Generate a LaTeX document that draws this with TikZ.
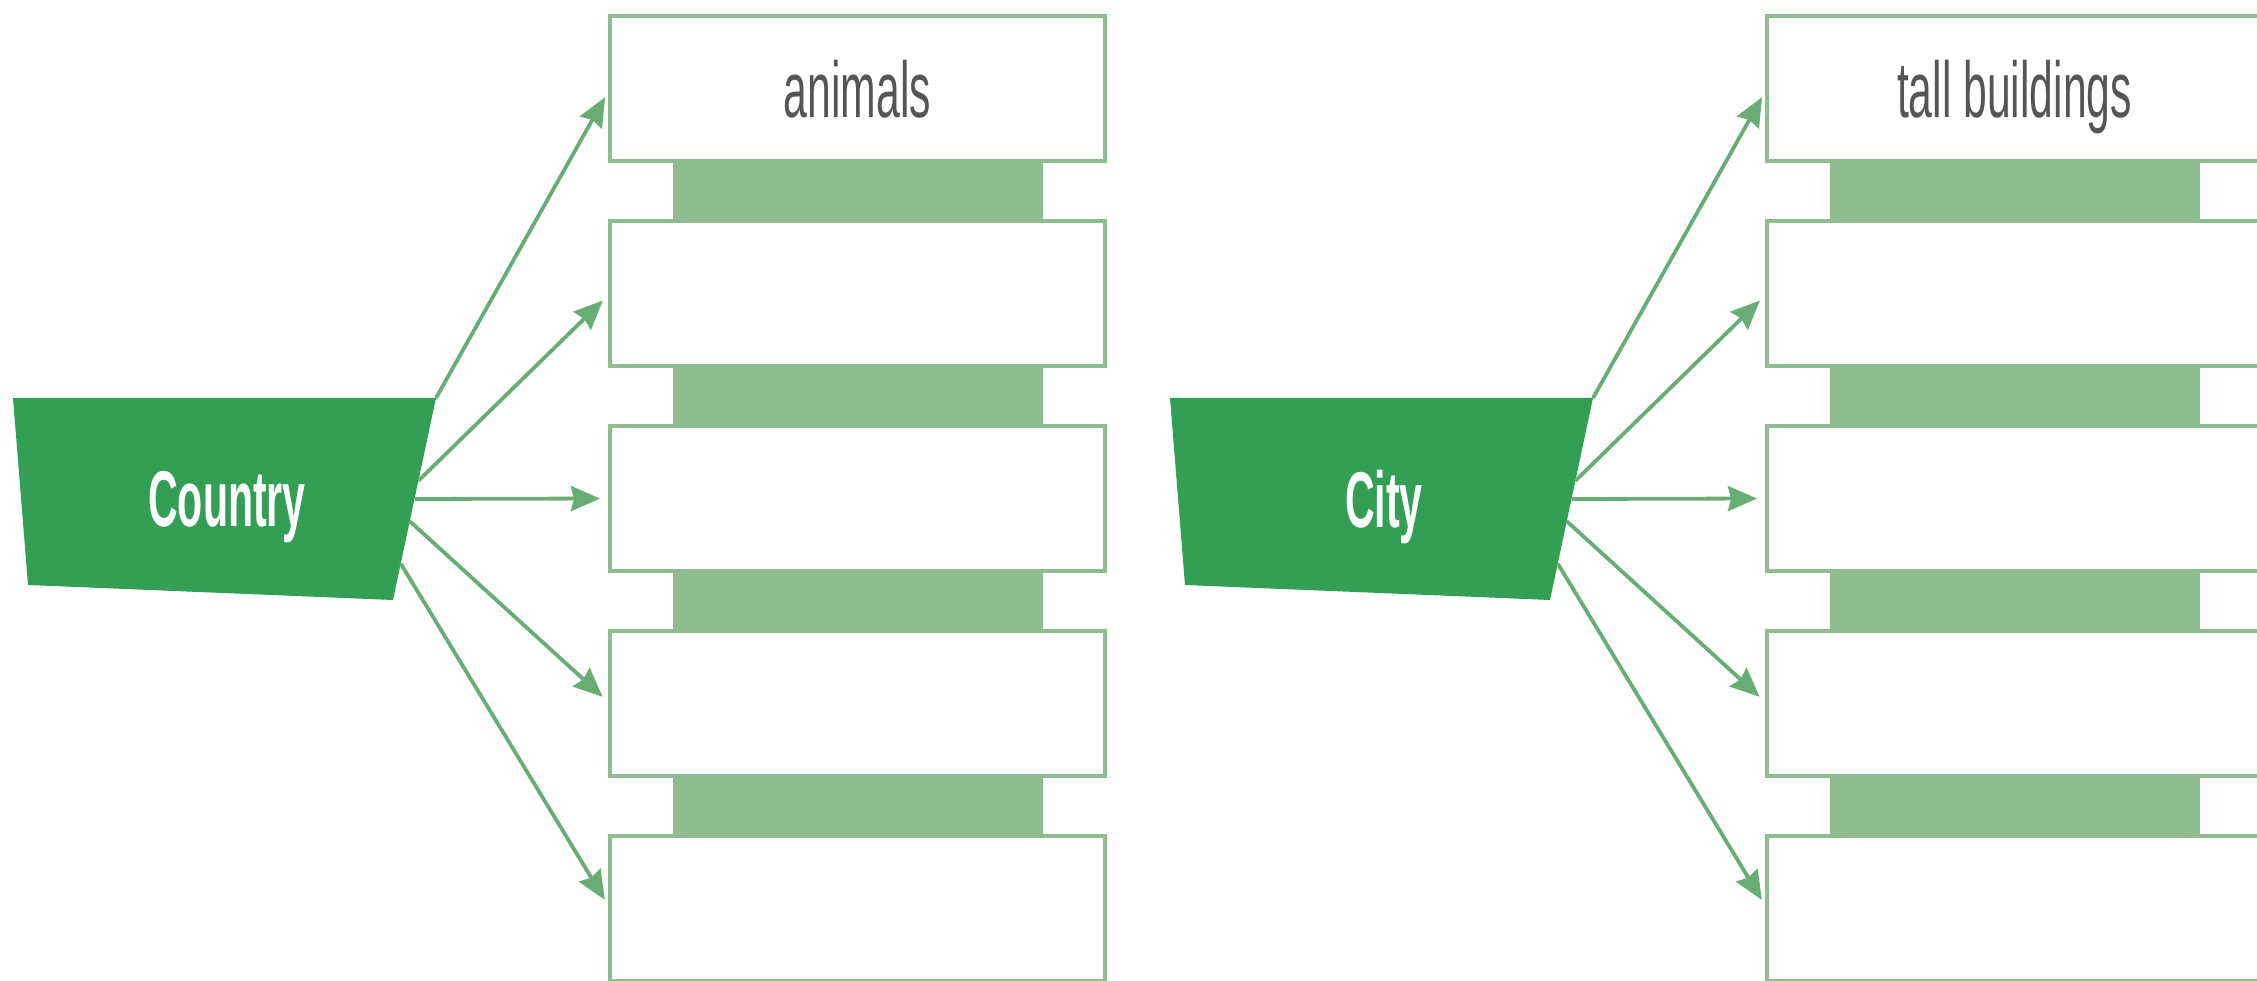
\documentclass[tikz,border=0pt]{standalone}
\usepackage{fontspec}
\usepackage{xcolor}
\usetikzlibrary{arrows.meta,positioning,calc}

\newfontfamily\slotfont[FakeStretch=0.54]{Liberation Sans}
\newfontfamily\tagfont[FakeStretch=0.52]{Liberation Sans}

\definecolor{tagfill}{RGB}{51,159,84}
\definecolor{slotline}{RGB}{143,189,143}
\definecolor{linkfill}{RGB}{142,188,142}
\definecolor{arrowgreen}{RGB}{104,174,116}
\definecolor{labelgray}{RGB}{85,85,85}

\begin{document}
\begin{tikzpicture}[
    x=0.1mm, y=-0.1mm,
    node distance=6mm,
    slot/.style={draw=slotline, line width=0.45mm, fill=white, minimum width=4.95cm,
                minimum height=1.45cm, inner sep=0pt, outer sep=0pt, text depth=0pt,
                text=labelgray, font=\slotfont\fontsize{22.5}{26}\selectfont},
    link/.style={fill=linkfill, minimum width=3.7cm, minimum height=6mm,
                inner sep=0pt, outer sep=0pt},
    tag/.style={text=white, text depth=0pt, inner sep=0pt,
                font=\tagfont\bfseries\fontsize{22.5}{26}\selectfont},
    arrow/.style={-{Stealth[length=2.9mm, width=2.5mm, inset=0.3mm]},
                line width=0.38mm, draw=arrowgreen, shorten >=1mm}
]
  \useasboundingbox (0,0) rectangle (2257,981);

  % country column
  \node[slot] (an1) at (857.5,88.5) {animals};
  \node[slot, below=of an1] (an2) {};
  \node[slot, below=of an2] (an3) {};
  \node[slot, below=of an3] (an4) {};
  \node[slot, below=of an4] (an5) {};
  \node[link, below=0mm of an1] (al1) {};
  \node[link, below=0mm of an2] (al2) {};
  \node[link, below=0mm of an3] (al3) {};
  \node[link, below=0mm of an4] (al4) {};

  \coordinate (ctry-nw) at (13,398);
  \coordinate (ctry-ne) at (436,398);
  \coordinate (ctry-se) at (393,600);
  \coordinate (ctry-sw) at (28,585);
  \fill[tagfill] (ctry-nw) -- (ctry-ne) -- (ctry-se) -- (ctry-sw) -- cycle;
  \node[tag] (ctry) at (227,499) {Country};

  \coordinate (ctry-o2) at ($(ctry-ne)!0.41!(ctry-se)$);
  \coordinate (ctry-o3) at ($(ctry-ne)!0.50!(ctry-se)$);
  \coordinate (ctry-o4) at ($(ctry-ne)!0.61!(ctry-se)$);
  \coordinate (ctry-o5) at ($(ctry-ne)!0.82!(ctry-se)$);

  \draw[arrow] (ctry-ne) -- (an1.west);
  \draw[arrow] (ctry-o2) -- (an2.west);
  \draw[arrow] (ctry-o3) -- (an3.west);
  \draw[arrow] (ctry-o4) -- (an4.west);
  \draw[arrow] (ctry-o5) -- (an5.west);

  % city column
  \node[slot] (tb1) at (2014.5,88.5) {tall buildings};
  \node[slot, below=of tb1] (tb2) {};
  \node[slot, below=of tb2] (tb3) {};
  \node[slot, below=of tb3] (tb4) {};
  \node[slot, below=of tb4] (tb5) {};
  \node[link, below=0mm of tb1] (tl1) {};
  \node[link, below=0mm of tb2] (tl2) {};
  \node[link, below=0mm of tb3] (tl3) {};
  \node[link, below=0mm of tb4] (tl4) {};

  \coordinate (city-nw) at (1170,398);
  \coordinate (city-ne) at (1593,398);
  \coordinate (city-se) at (1550,600);
  \coordinate (city-sw) at (1185,585);
  \fill[tagfill] (city-nw) -- (city-ne) -- (city-se) -- (city-sw) -- cycle;
  \node[tag] (city) at (1384,499) {City};

  \coordinate (city-o2) at ($(city-ne)!0.41!(city-se)$);
  \coordinate (city-o3) at ($(city-ne)!0.50!(city-se)$);
  \coordinate (city-o4) at ($(city-ne)!0.61!(city-se)$);
  \coordinate (city-o5) at ($(city-ne)!0.82!(city-se)$);

  \draw[arrow] (city-ne) -- (tb1.west);
  \draw[arrow] (city-o2) -- (tb2.west);
  \draw[arrow] (city-o3) -- (tb3.west);
  \draw[arrow] (city-o4) -- (tb4.west);
  \draw[arrow] (city-o5) -- (tb5.west);
\end{tikzpicture}
\end{document}
